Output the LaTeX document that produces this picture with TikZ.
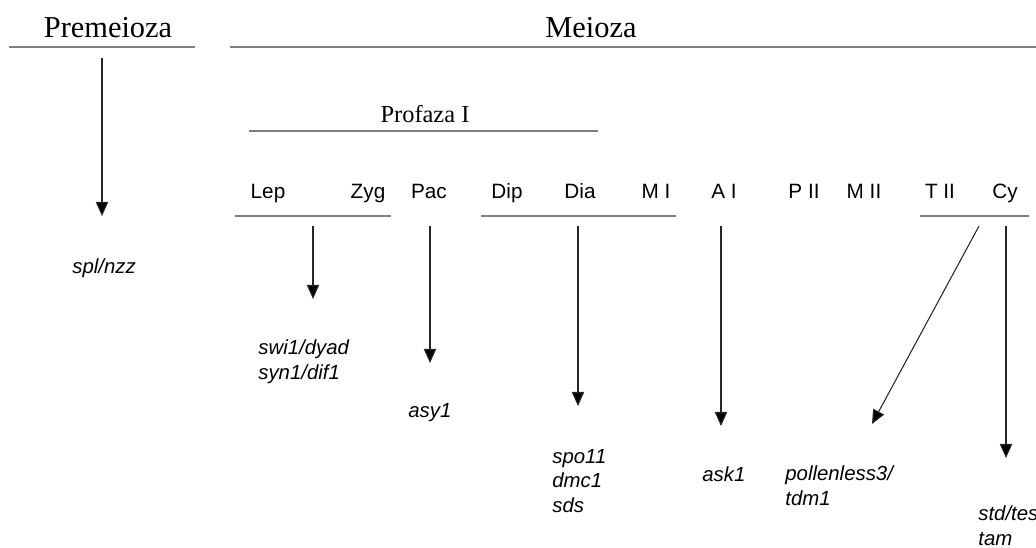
\documentclass[tikz,border=0pt]{standalone}
\usepackage{fontspec}
\setmainfont{Liberation Serif}
\newfontfamily\arialf{Liberation Sans}
\usetikzlibrary{arrows.meta}
\tikzset{
  heading/.style={anchor=base, inner sep=0pt, font=\fontsize{17.3}{20}\selectfont},
  subheading/.style={anchor=base, inner sep=0pt, font=\fontsize{13.9}{16}\selectfont},
  stage/.style={anchor=base, inner sep=0pt, font=\arialf\fontsize{11.8}{14}\selectfont},
  gene/.style={anchor=base west, inner sep=0pt, align=left, font=\arialf\itshape\fontsize{11.6}{13.9}\selectfont},
  rule/.style={draw=black!50, line width=0.9pt},
  pointer/.style={draw=black!85, line width=0.6pt, -{Triangle[length=8pt,width=7pt,fill=black]}}
}
\begin{document}
\begin{tikzpicture}[x=0.02cm,y=-0.02cm]
\useasboundingbox (0,0) rectangle (1036,548);
% headings
\node[heading] (pre) at (108,37) {Premeioza};
\node[heading] (mei) at (591,37) {Meioza};
\node[subheading] (prof) at (425,122) {Profaza I};
\draw[rule] (9,47) coordinate (preL) -- (195,47) coordinate (preR);
\draw[rule] (230,47) coordinate (meiL) -- (1036,47) coordinate (meiR);
\draw[rule] (249,131) coordinate (profL) -- (598,131) coordinate (profR);
% stages
\node[stage] (lep) at (268,198) {Lep};
\node[stage] (zyg) at (368,198) {Zyg};
\node[stage] (pac) at (429,198) {Pac};
\node[stage] (dip) at (507,198) {Dip};
\node[stage] (dia) at (580,198) {Dia};
\node[stage] (mI) at (656,198) {M I};
\node[stage] (aI) at (724,198) {A I};
\node[stage] (pII) at (804,198) {P II};
\node[stage] (mII) at (864,198) {M II};
\node[stage] (tII) at (940,198) {T II};
\node[stage] (cy) at (1005,198) {Cy};
\draw[rule] (235,216) coordinate (l1L) -- (391,216) coordinate (l1R);
\draw[rule] (481,216) coordinate (l2L) -- (676,216) coordinate (l2R);
\draw[rule] (920,216) coordinate (l3L) -- (1029,216) coordinate (l3R);
% genes (anchor = baseline of last line)
\node[gene] (g1) at (72,273) {spl/nzz};
\node[gene] (g2) at (258,379) {swi1/dyad\\syn1/dif1};
\node[gene] (g3) at (408,417) {asy1};
\node[gene] (g4) at (552,512) {spo11\\dmc1\\sds};
\node[gene] (g5) at (702,481) {ask1};
\node[gene] (g6) at (785,505) {pollenless3/\\tdm1};
\node[gene] (g7) at (978,545) {std/tes\\tam};
% arrow endpoints
\coordinate (s1) at (102,58);  \coordinate (e1) at (102,216);
\coordinate (s2) at (313,226); \coordinate (e2) at (313,299);
\coordinate (s3) at (430,226); \coordinate (e3) at (430,363);
\coordinate (s4) at (578,226); \coordinate (e4) at (578,406);
\coordinate (s5) at (721,226); \coordinate (e5) at (721,426);
\coordinate (s6) at (979,226); \coordinate (e6) at (872,424);
\coordinate (s7) at (1006,226); \coordinate (e7) at (1006,458);
\foreach \i in {1,...,7} \draw[pointer] (s\i) -- (e\i);
\end{tikzpicture}
\end{document}
